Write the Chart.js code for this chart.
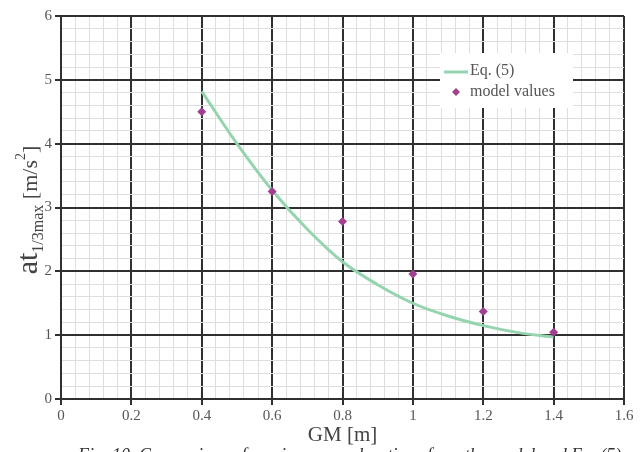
<!DOCTYPE html>
<html>
<head>
<meta charset="utf-8">
<script src="https://cdn.jsdelivr.net/npm/chart.js@4/dist/chart.umd.min.js"></script>
<style>
  html, body { margin: 0; padding: 0; background: #fff; }
  #wrap { width: 644px; height: 452px; position: relative; }
</style>
</head>
<body>
<div id="wrap"><canvas id="c" width="644" height="452"></canvas></div>
<script>
// Eq. (5) curve, sampled along GM [m]
const eqGM    = [0.4, 0.5, 0.6, 0.7, 0.8, 0.9, 1.0, 1.1, 1.2, 1.3, 1.4];
const eqAcc   = [4.82, 4.00, 3.27, 2.66, 2.15, 1.79, 1.50, 1.30, 1.15, 1.04, 0.97];

// model results
const modelGM  = [0.4, 0.6, 0.8, 1.0, 1.2, 1.4];
const modelAcc = [4.50, 3.25, 2.78, 1.96, 1.37, 1.045];

// axis ticks: labelled every 0.2 on x and every 1 on y, fine grid in between
const xTickLabels = ['0', '0.2', '0.4', '0.6', '0.8', '1', '1.2', '1.4', '1.6'];
const yTickLabels = ['0', '1', '2', '3', '4', '5', '6'];

const SERIF = '"Liberation Serif", "DejaVu Serif", serif';
const MAJOR = '#303030';
const MINOR = '#dedede';
const GREEN = '#95d4ae';
const PURPLE = '#a1408f';

const isMajorX = v => Math.abs(v * 5 - Math.round(v * 5)) < 1e-6;
const isMajorY = v => Math.abs(v - Math.round(v)) < 1e-6;

function gridFor(isMajor) {
  return {
    color: c => isMajor(c.tick.value) ? MAJOR : MINOR,
    lineWidth: c => isMajor(c.tick.value) ? 2 : 1,
    tickColor: c => isMajor(c.tick.value) ? MAJOR : 'rgba(0,0,0,0)',
    tickWidth: 2,
    tickLength: 6,
    drawTicks: true
  };
}

// axis titles, legend box and figure caption
const annotations = {
  id: 'annotations',
  afterDraw(chart) {
    const ctx = chart.ctx;
    const area = chart.chartArea;

    // legend
    ctx.save();
    ctx.fillStyle = '#ffffff';
    ctx.fillRect(440, 53, 133, 55);
    ctx.strokeStyle = GREEN;
    ctx.lineWidth = 3;
    ctx.beginPath();
    ctx.moveTo(444, 72);
    ctx.lineTo(468, 72);
    ctx.stroke();
    ctx.fillStyle = PURPLE;
    ctx.beginPath();
    ctx.moveTo(456, 88);
    ctx.lineTo(460, 92);
    ctx.lineTo(456, 96);
    ctx.lineTo(452, 92);
    ctx.closePath();
    ctx.fill();
    ctx.fillStyle = '#555555';
    ctx.font = '16px ' + SERIF;
    ctx.textBaseline = 'middle';
    ctx.textAlign = 'left';
    ctx.fillText('Eq. (5)', 470, 71);
    ctx.fillText('model values', 470, 92);
    ctx.restore();

    // x title
    ctx.save();
    ctx.fillStyle = '#444444';
    ctx.font = '21px ' + SERIF;
    ctx.textAlign = 'center';
    ctx.textBaseline = 'alphabetic';
    ctx.fillText('GM [m]', (area.left + area.right) / 2, 441);
    ctx.restore();

    // y title with subscript and superscript
    const parts = [
      { t: 'at', size: 30, dy: 0 },
      { t: '1/3max', size: 16, dy: 6 },
      { t: ' [m/s', size: 22, dy: 0 },
      { t: '2', size: 14, dy: -12 },
      { t: ']', size: 22, dy: 0 }
    ];
    ctx.save();
    ctx.fillStyle = '#444444';
    ctx.textBaseline = 'alphabetic';
    ctx.textAlign = 'left';
    let total = 0;
    parts.forEach(p => { ctx.font = p.size + 'px ' + SERIF; p.w = ctx.measureText(p.t).width; total += p.w; });
    ctx.translate(37, 210);
    ctx.rotate(-Math.PI / 2);
    let x = -total / 2;
    parts.forEach(p => {
      ctx.font = p.size + 'px ' + SERIF;
      ctx.fillText(p.t, x, p.dy);
      x += p.w;
    });
    ctx.restore();

    // caption
    ctx.save();
    ctx.fillStyle = '#333333';
    ctx.font = 'italic 18px ' + SERIF;
    ctx.textAlign = 'left';
    ctx.textBaseline = 'alphabetic';
    ctx.fillText('Fig. 10. Comparison of maximum accelerations from the model and Eq. (5)', 78, 461);
    ctx.restore();
  }
};

new Chart(document.getElementById('c'), {
  type: 'scatter',
  data: {
    datasets: [
      {
        label: 'Eq. (5)',
        type: 'line',
        data: eqGM.map((g, i) => ({ x: g, y: eqAcc[i] })),
        borderColor: GREEN,
        backgroundColor: GREEN,
        borderWidth: 3,
        pointRadius: 0,
        fill: false,
        cubicInterpolationMode: 'monotone',
        order: 2
      },
      {
        label: 'model values',
        data: modelGM.map((g, i) => ({ x: g, y: modelAcc[i] })),
        pointStyle: 'rectRot',
        pointRadius: 4.5,
        pointBackgroundColor: PURPLE,
        pointBorderColor: PURPLE,
        pointBorderWidth: 0,
        order: 1
      }
    ]
  },
  options: {
    responsive: false,
    animation: false,
    devicePixelRatio: 1,
    layout: { padding: { top: 16, right: 20, left: 0, bottom: 0 } },
    plugins: {
      legend: { display: false },
      tooltip: { enabled: false }
    },
    scales: {
      x: {
        type: 'linear',
        min: 0,
        max: 1.6,
        afterFit: s => { s.height = 53; },
        ticks: {
          stepSize: 0.04,
          autoSkip: false,
          maxRotation: 0,
          padding: 2,
          color: '#555555',
          font: { family: SERIF, size: 15 },
          callback: v => isMajorX(v) ? xTickLabels[Math.round(v * 5)] : ''
        },
        grid: gridFor(isMajorX),
        border: { display: true, color: MAJOR, width: 2 }
      },
      y: {
        type: 'linear',
        min: 0,
        max: 6,
        afterFit: s => { s.width = 61; },
        ticks: {
          stepSize: 0.2,
          autoSkip: false,
          padding: 3,
          color: '#555555',
          font: { family: SERIF, size: 15 },
          callback: v => isMajorY(v) ? yTickLabels[Math.round(v)] : ''
        },
        grid: gridFor(isMajorY),
        border: { display: true, color: MAJOR, width: 2 }
      }
    }
  },
  plugins: [annotations]
});
</script>
</body>
</html>
